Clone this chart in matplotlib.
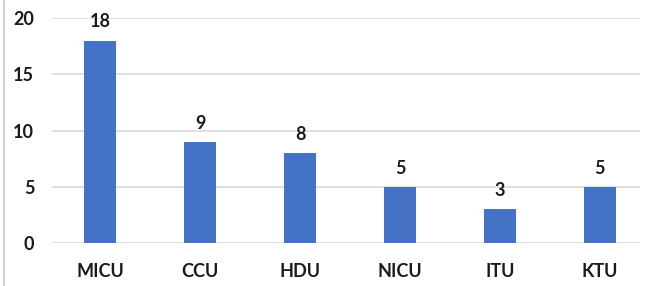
import numpy as np
import matplotlib.pyplot as plt
from matplotlib.lines import Line2D

# Data
units = ["MICU", "CCU", "HDU", "NICU", "ITU", "KTU"]
counts = [18, 9, 8, 5, 3, 5]
yticks = [0, 5, 10, 15, 20]

plt.rcParams['font.family'] = ['Lato', 'DejaVu Sans']

fig = plt.figure(figsize=(6.45, 2.86), dpi=100)
ax = fig.add_axes([0.081, 0.150, 0.911, 0.787])

x = np.arange(len(units))
bars = ax.bar(x, counts, width=0.32, color='#4472C4', zorder=3)

for xi, v in zip(x, counts):
    ax.text(xi, v + 0.9, str(v), ha='center', va='bottom',
            fontsize=13, fontweight='bold', color='#1a1a1a')

ax.set_ylim(0, 20)
ax.set_xlim(-0.48, 5.4)
ax.set_yticks(yticks)
ax.set_xticks(x)
ax.set_xticklabels(units)
ax.yaxis.grid(True, color='#d9d9d9', linewidth=1.2, zorder=0)
ax.tick_params(axis='both', length=0, labelsize=13)
ax.tick_params(axis='x', pad=14)
ax.tick_params(axis='y', pad=13)
for lab in ax.get_xticklabels() + ax.get_yticklabels():
    lab.set_fontweight('bold')
    lab.set_color('#1a1a1a')
for s in ax.spines.values():
    s.set_visible(False)

# light frame line on the left edge
fig.add_artist(Line2D([4 / 645, 4 / 645], [0, 1], color='#d0d0d0', linewidth=1.5))

fig.savefig('out.png', dpi=100)
